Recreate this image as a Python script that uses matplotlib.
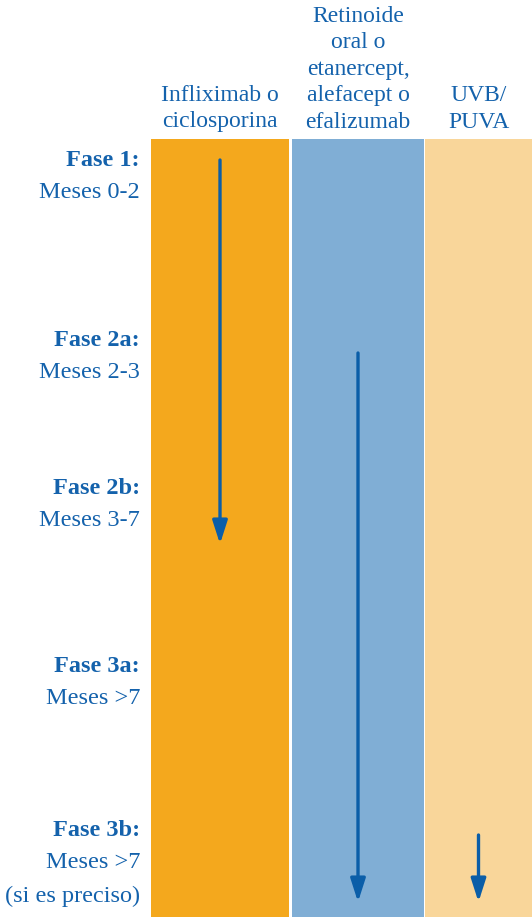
import matplotlib.pyplot as plt

# layout works in pixel units of the 532x917 picture
W, H = 532, 917

treatments = ["Infliximab o\nciclosporina",
              "Retinoide\noral o\netanercept,\nalefacept o\nefalizumab",
              "UVB/\nPUVA"]
col_left = [151, 292, 425]
col_right = [289, 424, 532]
col_colors = ["#F4A81D", "#80AED5", "#F9D69A"]
arrow_start = [160, 353, 835]
arrow_end = [544, 902, 902]

phase_titles = ["Fase 1:", "Fase 2a:", "Fase 2b:", "Fase 3a:", "Fase 3b:"]
phase_months = ["Meses 0-2", "Meses 2-3", "Meses 3-7", "Meses >7", "Meses >7\n(si es preciso)"]
phase_y = [160, 341, 488, 667, 830]

text_blue = "#1462AC"
arrow_blue = "#0B5EA8"
serif = ["Liberation Serif", "DejaVu Serif"]

fig = plt.figure(figsize=(W / 100, H / 100), dpi=100)
ax = fig.add_axes([0, 0, 1, 1])
ax.set_xlim(0, W)
ax.set_ylim(H, 0)
ax.axis("off")

top = 139
widths = [r - l for l, r in zip(col_left, col_right)]
ax.bar(col_left, [H - top] * 3, width=widths, bottom=top, align="edge",
       color=col_colors, edgecolor="none")

for i, name in enumerate(treatments):
    xc = (col_left[i] + col_right[i]) / 2
    lines = name.split("\n")
    for j, line in enumerate(lines[::-1]):
        ax.text(xc, 122 - 26.5 * j, line, ha="center", va="center",
                fontsize=17, family=serif, color=text_blue)
    ax.annotate("", xy=(xc, arrow_end[i]), xytext=(xc, arrow_start[i]),
                arrowprops=dict(arrowstyle="-|>,head_length=1.4,head_width=0.45",
                                color=arrow_blue, lw=2.4, shrinkA=0, shrinkB=0))

for t, m, y in zip(phase_titles, phase_months, phase_y):
    ax.text(140, y, t, ha="right", va="center", fontsize=17.5,
            fontweight="bold", family=serif, color=text_blue)
    for j, line in enumerate(m.split("\n")):
        ax.text(140, y + 32 + 34 * j, line, ha="right", va="center",
                fontsize=17.5, family=serif, color=text_blue)

fig.savefig("out.png", dpi=100)
